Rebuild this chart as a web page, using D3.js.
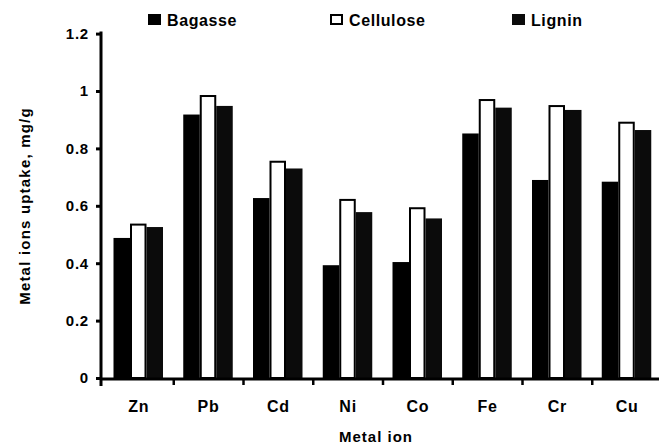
<!DOCTYPE html>
<html><head><meta charset="utf-8">
<script src="https://cdn.jsdelivr.net/npm/d3@7"></script>
<style>
body{margin:0;background:#fff;}
svg{display:block;font-family:Arial,"Liberation Sans",sans-serif;font-weight:bold;}
</style></head>
<body><svg id="c" width="659" height="444"></svg>
<script>
const categories = ["Zn","Pb","Cd","Ni","Co","Fe","Cr","Cu"];
const seriesNames = ["Bagasse","Cellulose","Lignin"];
const bagasse   = [0.488,0.918,0.627,0.393,0.404,0.852,0.690,0.684];
const cellulose = [0.538,0.986,0.757,0.624,0.595,0.972,0.951,0.893];
const lignin    = [0.526,0.948,0.730,0.578,0.556,0.942,0.934,0.864];
const yTicks = [0,0.2,0.4,0.6,0.8,1,1.2];
const yTickLabels = ["0","0.2","0.4","0.6","0.8","1","1.2"];

const svg = d3.select("#c");
const x = d3.scaleBand().domain(categories).range([104,662]);
const x1 = d3.scaleBand().domain(seriesNames).range([9.5,59]);
const y = d3.scaleLinear().domain([0,1.2]).range([378,33.6]);
const fills = {Bagasse:"#000",Cellulose:"#fff",Lignin:"#0b0b0b"};
const values = {Bagasse:bagasse,Cellulose:cellulose,Lignin:lignin};

// bars
const g = svg.append("g");
categories.forEach((c,i)=>{
  seriesNames.forEach(s=>{
    const v = values[s][i];
    const isC = s==="Cellulose";
    g.append("rect")
      .attr("x", x(c)+x1(s)+(isC?1:0))
      .attr("y", y(v)+(isC?1:0))
      .attr("width", x1.bandwidth()-(isC?2:0))
      .attr("height", y(0)-y(v)-(isC?1:0))
      .attr("fill", fills[s])
      .attr("stroke", isC?"#000":"none")
      .attr("stroke-width", isC?2:0);
  });
});

// y axis
const yAxis = d3.axisLeft(y).tickValues(yTicks).tickSize(5).tickPadding(7)
  .tickFormat((d,i)=>yTickLabels[i]);
const ya = svg.append("g").attr("transform","translate(101,0)").call(yAxis);
ya.select(".domain").remove();
ya.selectAll(".tick line").attr("stroke","#000").attr("stroke-width",3);
ya.selectAll(".tick text").attr("font-size",15).attr("font-weight","bold")
  .attr("letter-spacing",0.8).attr("fill","#000").attr("font-family",'Arial,"Liberation Sans",sans-serif');
svg.append("line").attr("x1",101).attr("x2",101).attr("y1",y(1.2)-2).attr("y2",386)
  .attr("stroke","#000").attr("stroke-width",3);

// x axis
svg.append("line").attr("x1",100).attr("x2",659).attr("y1",379).attr("y2",379)
  .attr("stroke","#000").attr("stroke-width",3);
categories.slice(1).forEach(c=>{
  svg.append("line").attr("x1",x(c)).attr("x2",x(c)).attr("y1",379).attr("y2",385)
    .attr("stroke","#000").attr("stroke-width",2.5);
});
const xAxis = d3.axisBottom(x).tickSize(0).tickPadding(0);
const xa = svg.append("g").attr("transform","translate(0,379)").call(xAxis);
xa.select(".domain").remove();
xa.selectAll(".tick text").attr("y",33).attr("dy",0).attr("font-size",16).attr("font-weight","bold")
  .attr("letter-spacing",0.8).attr("fill","#000").attr("font-family",'Arial,"Liberation Sans",sans-serif');

// axis titles
svg.append("text").attr("x",376).attr("y",442).attr("text-anchor","middle")
  .attr("font-size",15).attr("letter-spacing",1).text("Metal ion");
svg.append("text").attr("transform","translate(30,206) rotate(-90)").attr("text-anchor","middle")
  .attr("font-size",15).attr("letter-spacing",1.2).text("Metal ions uptake, mg/g");

// legend
const legX = [148,330,512];
seriesNames.forEach((s,i)=>{
  const isC = s==="Cellulose";
  svg.append("rect").attr("x",legX[i]+(isC?1:0)).attr("y",14+(isC?1:0))
    .attr("width",13-(isC?2:0)).attr("height",11-(isC?2:0))
    .attr("fill",fills[s]).attr("stroke",isC?"#000":"none").attr("stroke-width",isC?2:0);
  svg.append("text").attr("x",legX[i]+19).attr("y",25.5).attr("font-size",16)
    .attr("letter-spacing",0.6).text(s);
});
</script></body></html>
